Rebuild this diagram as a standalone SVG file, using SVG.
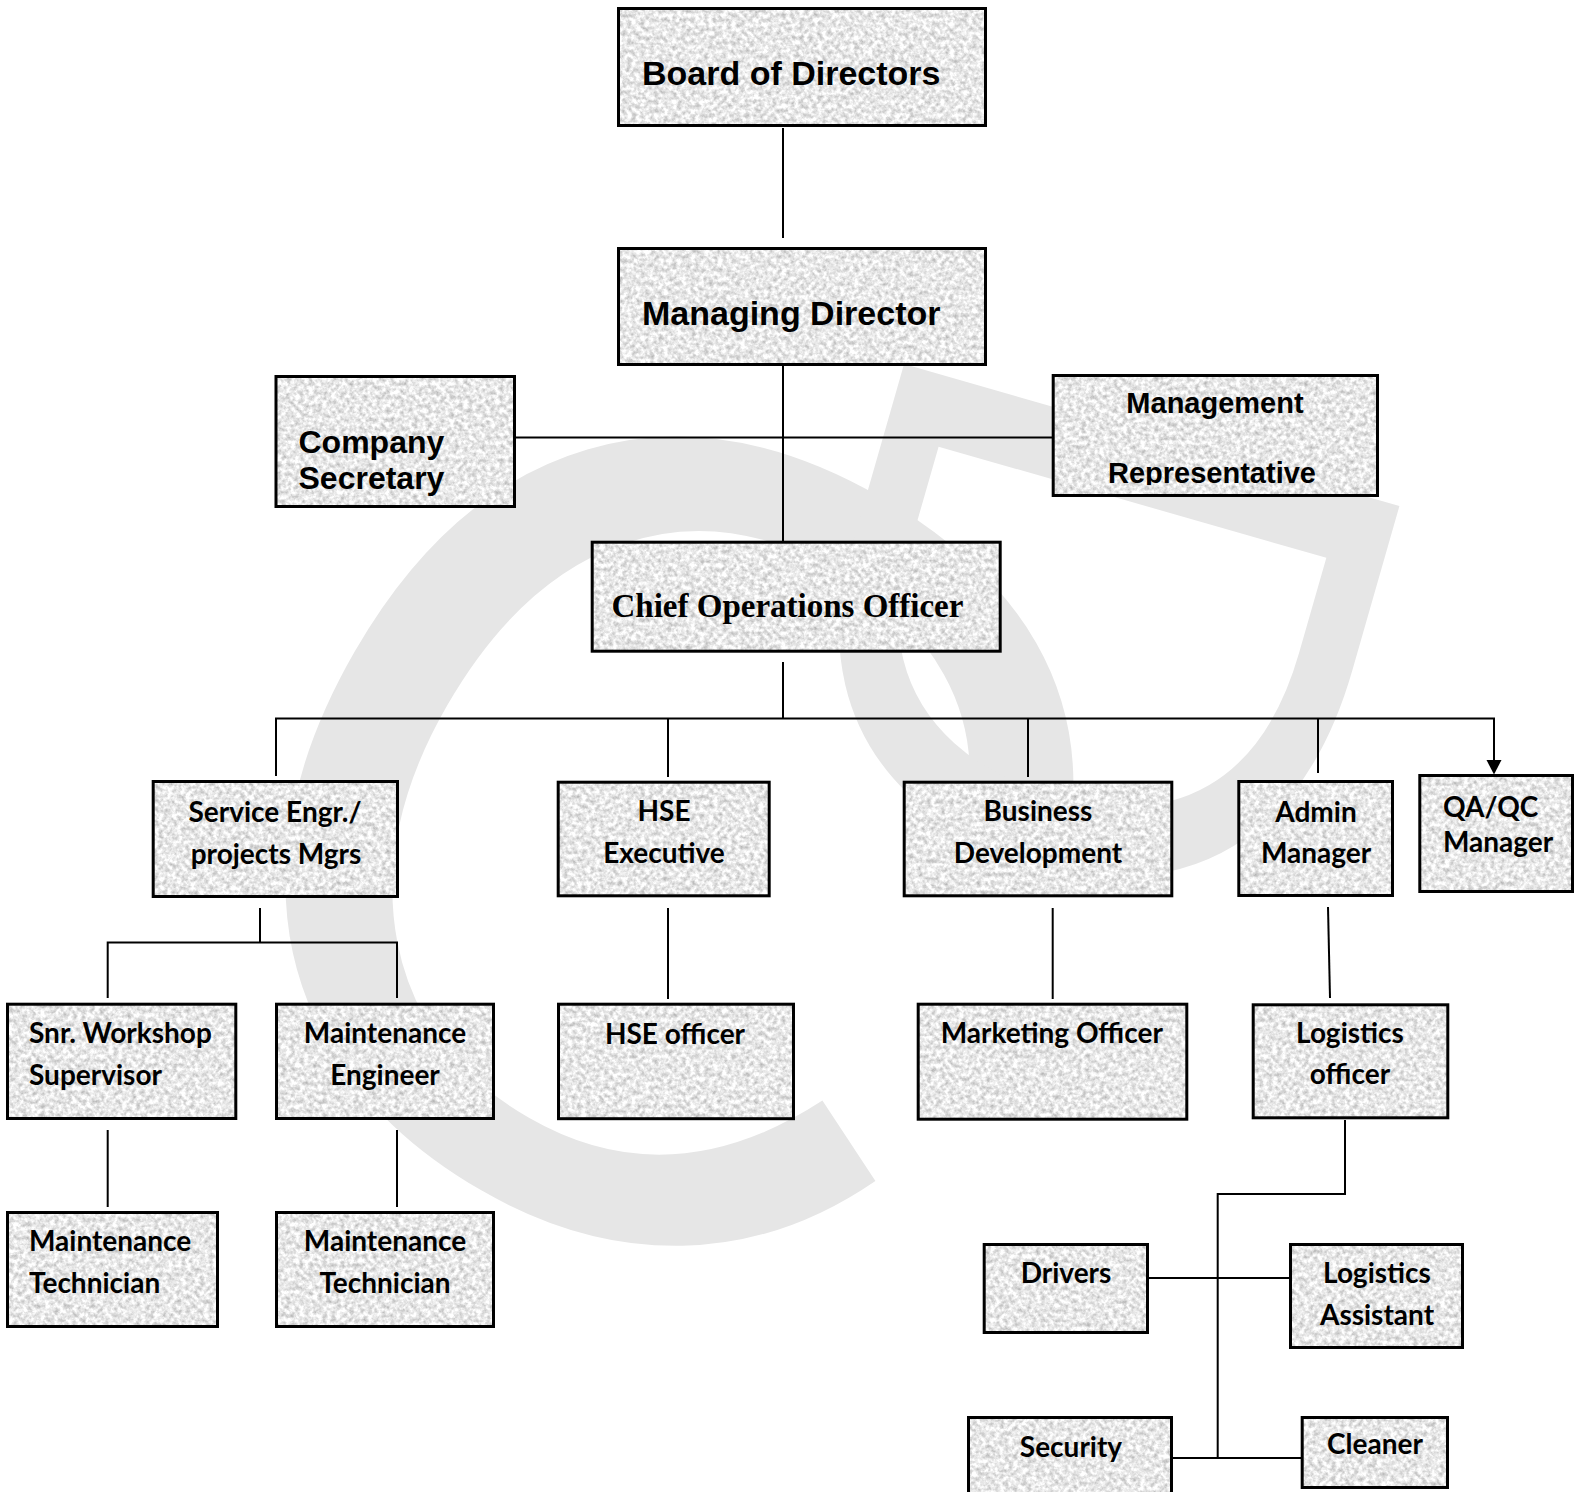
<svg xmlns="http://www.w3.org/2000/svg" width="1582" height="1492" viewBox="0 0 1582 1492">
<defs>
<style>
.bg{fill:#e8e8e8;filter:url(#granite)}
.bd{fill:none;stroke:#000;stroke-width:3}
.ar{font-family:'Liberation Sans',Arial,sans-serif;font-weight:bold;fill:#000}
.ca{font-family:Lato,'Liberation Sans',sans-serif;font-weight:bold;font-size:28px;fill:#000}
.cm{font-family:'Liberation Serif','Times New Roman',serif;font-weight:bold;fill:#000}
.mid{text-anchor:middle}
.ln{fill:none;stroke:#000;stroke-width:2}
.wm{font-family:'Liberation Sans',Arial,sans-serif;fill:#e6e6e6}
</style>
<filter id="granite" x="0" y="0" width="1" height="1" color-interpolation-filters="sRGB">
<feTurbulence type="fractalNoise" baseFrequency="0.22" numOctaves="3" seed="7" result="n"/>
<feColorMatrix in="n" type="matrix" values="0.5 0 0 0 0.66  0.5 0 0 0 0.66  0.5 0 0 0 0.66  0 0 0 0 1" result="g"/>
<feComposite in="g" in2="SourceAlpha" operator="in"/>
</filter>
<clipPath id="clipMR"><rect x="1053" y="375" width="326" height="110"/></clipPath>
</defs>
<rect width="1582" height="1492" fill="#fff"/>
<g id="watermark">
<text class="wm" font-size="1130" transform="translate(675,816) rotate(30)" x="-417" y="410">C</text>
<text class="wm" font-size="749" transform="translate(921,305) rotate(106)" x="0" y="0">D</text>
</g>
<g id="connectors">
<path class="ln" d="M783,128 V238"/>
<path class="ln" d="M783,350 V541"/>
<path class="ln" d="M516,437.5 H1052"/>
<path class="ln" d="M783,662 V718.5"/>
<path class="ln" d="M275,718.5 H1494 V762"/>
<path d="M1486.5,760 L1501.5,760 L1494,774.5 Z" fill="#000"/>
<path class="ln" d="M276,718.5 V776"/>
<path class="ln" d="M668,718.5 V777"/>
<path class="ln" d="M1028,718.5 V777"/>
<path class="ln" d="M1318,718.5 V773"/>
<path class="ln" d="M260,908 V942.5"/>
<path class="ln" d="M107.7,998 V942.5 H397 V998"/>
<path class="ln" d="M107.7,1130 V1207"/>
<path class="ln" d="M397,1130 V1207"/>
<path class="ln" d="M668,908 V999"/>
<path class="ln" d="M1052.7,908 V999"/>
<path class="ln" d="M1328,907 L1330,998"/>
<path class="ln" d="M1345,1120 V1194 H1217.7 V1458"/>
<path class="ln" d="M1149,1278 H1289"/>
<path class="ln" d="M1173,1458 H1301"/>
</g>
<g id="n-board"><rect class="bg" x="618.5" y="8.5" width="367" height="117"/><rect class="bd" x="618.5" y="8.5" width="367" height="117"/>
<text class="ar" x="642" y="85" font-size="34">Board of Directors</text></g>
<g id="n-md"><rect class="bg" x="618.5" y="248.5" width="367" height="116"/><rect class="bd" x="618.5" y="248.5" width="367" height="116"/>
<text class="ar" x="642" y="325" font-size="34">Managing Director</text></g>
<g id="n-cs"><rect class="bg" x="276" y="376.5" width="238.5" height="130"/><rect class="bd" x="276" y="376.5" width="238.5" height="130"/>
<text class="ar" x="298.5" y="453" font-size="32">Company</text><text class="ar" x="298.5" y="489" font-size="32">Secretary</text></g>
<g id="n-mr"><rect class="bg" x="1053.2" y="375.5" width="324.3" height="120"/><rect class="bd" x="1053.2" y="375.5" width="324.3" height="120"/>
<text class="ar mid" x="1215" y="413" font-size="29">Management</text><text class="ar mid" x="1212" y="483" font-size="29" clip-path="url(#clipMR)">Representative</text></g>
<g id="n-coo"><rect class="bg" x="592.2" y="542.2" width="408" height="109"/><rect class="bd" x="592.2" y="542.2" width="408" height="109"/>
<text class="cm" x="611.5" y="617" font-size="33">Chief Operations Officer</text></g>
<g id="n-svc"><rect class="bg" x="153.2" y="781.5" width="244.3" height="115"/><rect class="bd" x="153.2" y="781.5" width="244.3" height="115"/>
<text class="ca mid" x="275" y="822">Service Engr./</text><text class="ca mid" x="276" y="864">projects Mgrs</text></g>
<g id="n-hse"><rect class="bg" x="558.2" y="782.2" width="211" height="113.6"/><rect class="bd" x="558.2" y="782.2" width="211" height="113.6"/>
<text class="ca mid" x="664" y="821">HSE</text><text class="ca mid" x="664" y="863">Executive</text></g>
<g id="n-bd"><rect class="bg" x="904.2" y="782.2" width="267.6" height="113.6"/><rect class="bd" x="904.2" y="782.2" width="267.6" height="113.6"/>
<text class="ca mid" x="1038" y="821">Business</text><text class="ca mid" x="1038" y="863">Development</text></g>
<g id="n-admin"><rect class="bg" x="1238.8" y="781.5" width="153.7" height="114"/><rect class="bd" x="1238.8" y="781.5" width="153.7" height="114"/>
<text class="ca mid" x="1316" y="822">Admin</text><text class="ca mid" x="1316" y="863">Manager</text></g>
<g id="n-qa"><rect class="bg" x="1419.8" y="775.5" width="152.7" height="116"/><rect class="bd" x="1419.8" y="775.5" width="152.7" height="116"/>
<text class="ca" x="1443" y="817">QA/QC</text><text class="ca" x="1443" y="852">Manager</text></g>
<g id="n-snr"><rect class="bg" x="7.5" y="1004.2" width="228.3" height="114.3"/><rect class="bd" x="7.5" y="1004.2" width="228.3" height="114.3"/>
<text class="ca" x="29" y="1043">Snr. Workshop</text><text class="ca" x="29" y="1085">Supervisor</text></g>
<g id="n-me"><rect class="bg" x="276.5" y="1004.2" width="217" height="114.3"/><rect class="bd" x="276.5" y="1004.2" width="217" height="114.3"/>
<text class="ca mid" x="385" y="1043">Maintenance</text><text class="ca mid" x="385" y="1085">Engineer</text></g>
<g id="n-hseo"><rect class="bg" x="558.5" y="1004.2" width="235" height="114.5"/><rect class="bd" x="558.5" y="1004.2" width="235" height="114.5"/>
<text class="ca mid" x="675" y="1044">HSE officer</text></g>
<g id="n-mkt"><rect class="bg" x="918.2" y="1004.2" width="268.6" height="115"/><rect class="bd" x="918.2" y="1004.2" width="268.6" height="115"/>
<text class="ca" x="940.7" y="1043">Marketing Officer</text></g>
<g id="n-lo"><rect class="bg" x="1253.2" y="1004.8" width="194.6" height="113"/><rect class="bd" x="1253.2" y="1004.8" width="194.6" height="113"/>
<text class="ca mid" x="1350" y="1043">Logistics</text><text class="ca mid" x="1350" y="1084">officer</text></g>
<g id="n-mt1"><rect class="bg" x="7.5" y="1212.5" width="210" height="114"/><rect class="bd" x="7.5" y="1212.5" width="210" height="114"/>
<text class="ca" x="29" y="1251">Maintenance</text><text class="ca" x="29" y="1293">Technician</text></g>
<g id="n-mt2"><rect class="bg" x="276.5" y="1212.5" width="217" height="114"/><rect class="bd" x="276.5" y="1212.5" width="217" height="114"/>
<text class="ca mid" x="385" y="1251">Maintenance</text><text class="ca mid" x="385" y="1293">Technician</text></g>
<g id="n-drv"><rect class="bg" x="984.2" y="1244.5" width="163.3" height="88"/><rect class="bd" x="984.2" y="1244.5" width="163.3" height="88"/>
<text class="ca mid" x="1066" y="1283">Drivers</text></g>
<g id="n-la"><rect class="bg" x="1290.5" y="1244.5" width="172" height="103"/><rect class="bd" x="1290.5" y="1244.5" width="172" height="103"/>
<text class="ca mid" x="1377" y="1283">Logistics</text><text class="ca mid" x="1377" y="1325">Assistant</text></g>
<g id="n-sec"><rect class="bg" x="968.5" y="1417.5" width="203" height="90"/><rect class="bd" x="968.5" y="1417.5" width="203" height="90"/>
<text class="ca mid" x="1071" y="1457">Security</text></g>
<g id="n-cln"><rect class="bg" x="1302.2" y="1417.5" width="145.3" height="70"/><rect class="bd" x="1302.2" y="1417.5" width="145.3" height="70"/>
<text class="ca mid" x="1375" y="1454">Cleaner</text></g>
</svg>
